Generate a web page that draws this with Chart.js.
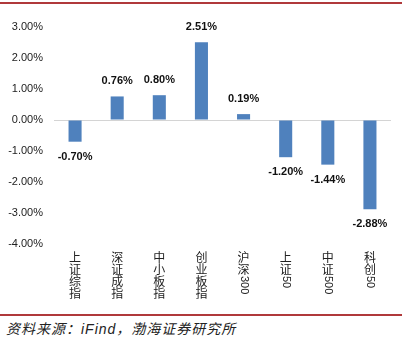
<!DOCTYPE html>
<html>
<head>
<meta charset="utf-8">
<script src="https://cdn.jsdelivr.net/npm/chart.js@4/dist/chart.umd.min.js"></script>
<style>
  body { margin: 0; background: #fff; }
  #wrap { position: relative; width: 402px; height: 337px; overflow: hidden; }
  #topLine { position: absolute; left: 0; top: 2px; width: 402px; height: 2px; background: #b0393b; }
  #botLine { position: absolute; left: 0; top: 314px; width: 402px; height: 2px; background: #b0393b; }
  #chartBox { position: absolute; left: 0; top: 0; width: 402px; height: 312px; }
  #note { position: absolute; left: 6px; top: 318px; font: italic 14px "Liberation Sans", "Noto Sans CJK SC", sans-serif; letter-spacing: 1px; color: #222; white-space: nowrap; }
</style>
</head>
<body>
<div id="wrap">
  <div id="topLine"></div>
  <div id="chartBox"><canvas id="c"></canvas></div>
  <div id="botLine"></div>
  <div id="note">资料来源：iFind，渤海证券研究所</div>
</div>
<script>
const categories = ['上证综指', '深证成指', '中小板指', '创业板指', '沪深300', '上证50', '中证500', '科创50'];
const changes = [-0.70, 0.76, 0.80, 2.51, 0.19, -1.20, -1.44, -2.88];
const yTicks = [3, 2, 1, 0, -1, -2, -3, -4];

// value labels above / below each bar
const valueLabels = {
    id: 'valueLabels',
    afterDatasetsDraw(chart) {
        const ctx = chart.ctx;
        const meta = chart.getDatasetMeta(0);
        ctx.save();
        ctx.font = 'bold 11px "Liberation Sans", sans-serif';
        ctx.fillStyle = '#111';
        ctx.textAlign = 'center';
        ctx.textBaseline = 'middle';
        meta.data.forEach((bar, i) => {
            const v = changes[i];
            const y = v >= 0 ? bar.y - 15 : bar.y + 15;
            ctx.fillText(v.toFixed(2) + '%', bar.x, y);
        });
        ctx.restore();
    }
};

// vertical category labels: CJK upright, digits turned sideways
const verticalTicks = {
    id: 'verticalTicks',
    afterDraw(chart) {
        const ctx = chart.ctx;
        const xs = chart.scales.x;
        ctx.save();
        ctx.fillStyle = '#222';
        categories.forEach((label, i) => {
            const cx = xs.getPixelForValue(i);
            let y = xs.top + 13;
            const runs = label.match(/[0-9A-Za-z]+|[^0-9A-Za-z]/g);
            runs.forEach(run => {
                if (/^[0-9A-Za-z]+$/.test(run)) {
                    ctx.save();
                    ctx.font = '11px "Liberation Sans", sans-serif';
                    ctx.translate(cx, y - 5);
                    ctx.rotate(Math.PI / 2);
                    ctx.textAlign = 'left';
                    ctx.textBaseline = 'middle';
                    ctx.fillText(run, 0, 0);
                    ctx.restore();
                    y += ctx.measureText(run).width + 6;
                } else {
                    ctx.font = '12px "Noto Sans CJK SC", sans-serif';
                    ctx.textAlign = 'center';
                    ctx.textBaseline = 'middle';
                    ctx.fillText(run, cx, y);
                    y += 12;
                }
            });
        });
        ctx.restore();
    }
};

new Chart(document.getElementById('c'), {
    type: 'bar',
    data: {
        labels: categories,
        datasets: [{
            data: changes,
            backgroundColor: '#4f81bd',
            barPercentage: 0.31,
            categoryPercentage: 1
        }]
    },
    options: {
        responsive: true,
        maintainAspectRatio: false,
        animation: false,
        layout: { padding: { top: 27, right: 11, left: 0, bottom: 0 } },
        plugins: { legend: { display: false }, tooltip: { enabled: false } },
        scales: {
            x: {
                grid: { display: false },
                border: { display: false },
                ticks: { display: false },
                afterFit: s => { s.height = 68; }
            },
            y: {
                min: -4,
                max: 3,
                afterBuildTicks: s => { s.ticks = yTicks.map(v => ({ value: v })); },
                grid: {
                    drawTicks: false,
                    color: c => (c.tick && c.tick.value === 0 ? '#d4d4d4' : 'rgba(0,0,0,0)'),
                    lineWidth: 1
                },
                border: { display: false },
                ticks: {
                    padding: 11,
                    color: '#222',
                    font: { family: '"Liberation Sans", sans-serif', size: 11 },
                    callback: v => v.toFixed(2) + '%'
                },
                afterFit: s => { s.width = 54; }
            }
        }
    },
    plugins: [valueLabels, verticalTicks]
});
</script>
</body>
</html>
